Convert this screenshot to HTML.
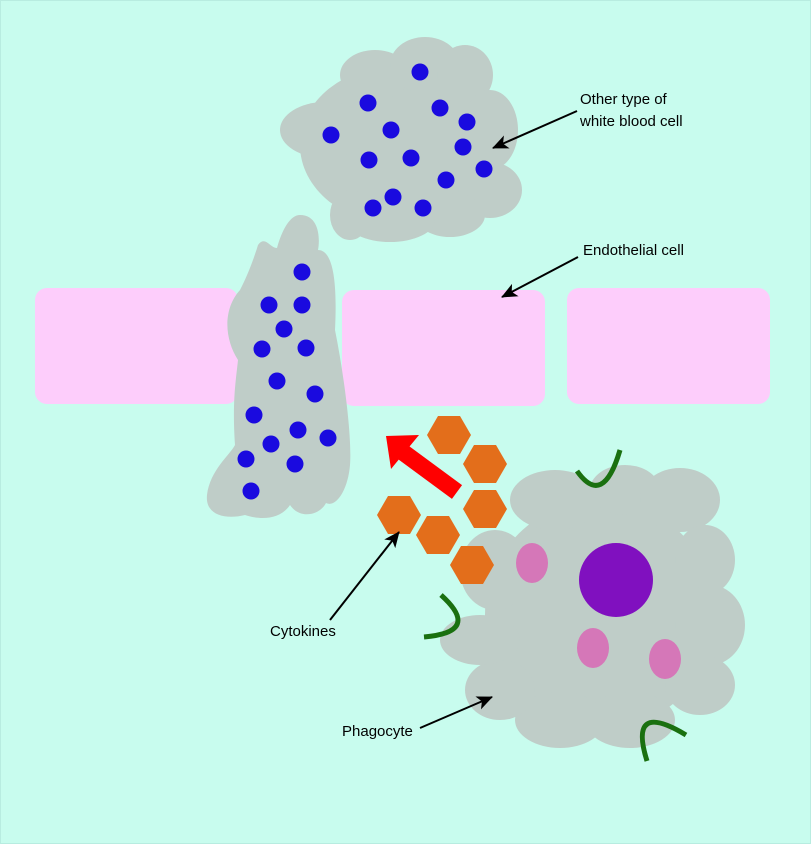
<!DOCTYPE html>
<html><head><style>body{margin:0;background:#c8fcee}svg{display:block}text{font-family:"Liberation Sans",sans-serif;font-size:15px;fill:#000}</style></head>
<body>
<svg width="811" height="844" viewBox="0 0 811 844">
<defs><marker id="a" markerWidth="16" markerHeight="16" refX="15" refY="8" orient="auto" markerUnits="userSpaceOnUse"><path d="M0,1 L16,8 L0,15 L4,8z" fill="#000"/></marker></defs>
<rect x="0.5" y="0.5" width="810" height="843" fill="#c8fcee" stroke="#b8ece0"/>
<g fill="#fdcdfb">
<rect x="35" y="288" width="203" height="116" rx="12"/>
<rect x="342" y="290" width="203" height="116" rx="12"/>
<rect x="567" y="288" width="203" height="116" rx="12"/>
</g>
<g fill="#bfcdc8">
<ellipse cx="400" cy="145" rx="100" ry="80"/>
<ellipse cx="325" cy="130" rx="45" ry="28"/>
<ellipse cx="375" cy="75" rx="35" ry="25"/>
<ellipse cx="425" cy="65" rx="35" ry="28"/>
<ellipse cx="465" cy="75" rx="28" ry="30"/>
<ellipse cx="490" cy="130" rx="28" ry="40"/>
<ellipse cx="490" cy="190" rx="32" ry="28"/>
<ellipse cx="450" cy="215" rx="35" ry="22"/>
<ellipse cx="390" cy="220" rx="45" ry="22"/>
<ellipse cx="350" cy="215" rx="20" ry="25"/>
<path d="M300,215 C320,215 320,240 318,250 C330,250 338,270 335,330 C345,380 352,440 350,465 C348,490 336,508 326,503 C320,515 300,520 290,505 C280,520 260,520 245,515 C225,520 205,515 207,495 C210,470 230,455 235,445 C232,400 236,380 238,360 C225,340 222,310 240,290 C248,275 255,255 258,245 C265,235 270,248 277,248 C282,230 290,215 300,215Z"/>
<circle cx="600" cy="615" r="115"/>
<ellipse cx="555" cy="500" rx="45" ry="30"/>
<ellipse cx="625" cy="490" rx="35" ry="25"/>
<ellipse cx="680" cy="500" rx="40" ry="32"/>
<ellipse cx="705" cy="560" rx="30" ry="35"/>
<ellipse cx="710" cy="625" rx="35" ry="40"/>
<ellipse cx="700" cy="685" rx="35" ry="30"/>
<ellipse cx="630" cy="720" rx="45" ry="28"/>
<ellipse cx="560" cy="720" rx="45" ry="28"/>
<ellipse cx="500" cy="690" rx="35" ry="30"/>
<ellipse cx="480" cy="640" rx="40" ry="25"/>
<ellipse cx="495" cy="570" rx="35" ry="40"/>
</g>
<g fill="#1a0adf">
<circle cx="420" cy="72" r="8.5"/><circle cx="368" cy="103" r="8.5"/><circle cx="440" cy="108" r="8.5"/><circle cx="467" cy="122" r="8.5"/><circle cx="331" cy="135" r="8.5"/><circle cx="391" cy="130" r="8.5"/><circle cx="463" cy="147" r="8.5"/><circle cx="369" cy="160" r="8.5"/><circle cx="411" cy="158" r="8.5"/><circle cx="484" cy="169" r="8.5"/><circle cx="446" cy="180" r="8.5"/><circle cx="393" cy="197" r="8.5"/><circle cx="373" cy="208" r="8.5"/><circle cx="423" cy="208" r="8.5"/>
<circle cx="302" cy="272" r="8.5"/><circle cx="269" cy="305" r="8.5"/><circle cx="302" cy="305" r="8.5"/><circle cx="284" cy="329" r="8.5"/><circle cx="262" cy="349" r="8.5"/><circle cx="306" cy="348" r="8.5"/><circle cx="277" cy="381" r="8.5"/><circle cx="315" cy="394" r="8.5"/><circle cx="254" cy="415" r="8.5"/><circle cx="298" cy="430" r="8.5"/><circle cx="328" cy="438" r="8.5"/><circle cx="271" cy="444" r="8.5"/><circle cx="246" cy="459" r="8.5"/><circle cx="295" cy="464" r="8.5"/><circle cx="251" cy="491" r="8.5"/>
</g>
<circle cx="616" cy="580" r="37" fill="#8010bf"/>
<g fill="#d577b8"><ellipse cx="532" cy="563" rx="16" ry="20"/><ellipse cx="593" cy="648" rx="16" ry="20"/><ellipse cx="665" cy="659" rx="16" ry="20"/></g>
<g fill="none" stroke="#1a7010" stroke-width="5">
<path d="M577,471 Q603,508 620,450"/>
<path d="M441,595 Q482,632 424,637"/>
<path d="M647,761 Q628,700 686,735"/>
</g>
<g fill="#e36e1b">
<polygon points="427,435 438,416 460,416 471,435 460,454 438,454"/>
<polygon points="463,464 474,445 496,445 507,464 496,483 474,483"/>
<polygon points="463,509 474,490 496,490 507,509 496,528 474,528"/>
<polygon points="377,515 388,496 410,496 421,515 410,534 388,534"/>
<polygon points="416,535 427,516 449,516 460,535 449,554 427,554"/>
<polygon points="450,565 461,546 483,546 494,565 483,584 461,584"/>
</g>
<line x1="457" y1="492" x2="400" y2="450" stroke="#f00" stroke-width="17"/>
<polygon points="386,436 419,435 391,469" fill="#f00"/>
<g stroke="#000" stroke-width="2" fill="none" marker-end="url(#a)">
<line x1="577" y1="111" x2="493" y2="148"/>
<line x1="578" y1="257" x2="502" y2="297"/>
<line x1="330" y1="620" x2="399" y2="532"/>
<line x1="420" y1="728" x2="492" y2="697"/>
</g>
<text x="580" y="104">Other type of</text>
<text x="580" y="126">white blood cell</text>
<text x="583" y="255">Endothelial cell</text>
<text x="270" y="636">Cytokines</text>
<text x="342" y="736">Phagocyte</text>
</svg>
</body></html>
